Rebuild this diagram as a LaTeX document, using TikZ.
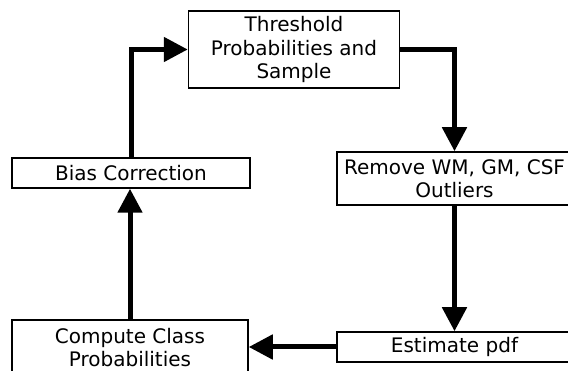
\documentclass[tikz,border=0pt]{standalone}
\usepackage{fontspec}
\setmainfont{DejaVu Sans}
\usetikzlibrary{arrows.meta}
\tikzset{
  procbox/.style={draw=black, line width=1.5pt, fill=white, inner sep=0pt, align=center,
    font=\fontsize{20}{23.5}\selectfont},
  flow/.style={line width=5pt, -{Triangle[length=24pt,width=24pt]}}
}
\begin{document}
\begin{tikzpicture}[x=1pt,y=-1pt]
\useasboundingbox (0,0) rectangle (568,371);
\clip (0,0) rectangle (568,371);
\fill[white] (0,0) rectangle (568,371);
\node[procbox, minimum width=211pt, minimum height=77pt] (thr) at (294,49.5) {Threshold\\Probabilities and\\Sample};
\node[procbox, minimum width=238pt, minimum height=30pt] (bias) at (131,173) {Bias Correction};
\node[procbox, minimum width=235pt, minimum height=53pt] (rem) at (454.5,178.5) {Remove WM, GM, CSF\\Outliers};
\node[procbox, minimum width=235pt, minimum height=30pt] (est) at (454.5,347) {Estimate pdf};
\node[procbox, minimum width=236pt, minimum height=55pt] (comp) at (130,347.5) {Compute Class\\Probabilities};
\draw[flow] (bias.north) |- (thr.west);
\draw[flow] (thr.east) -| (rem.north);
\draw[flow] (rem.south) -- (est.north);
\draw[flow] (est.west) -- (comp.east |- est.west);
\draw[flow] (comp.north) -- (comp.north |- bias.south);
\end{tikzpicture}
\end{document}
